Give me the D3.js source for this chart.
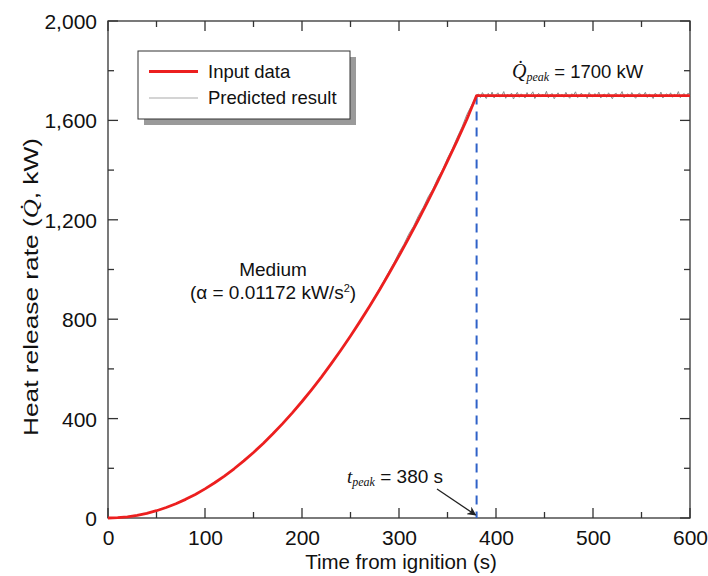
<!DOCTYPE html>
<html>
<head>
<meta charset="utf-8">
<script src="https://cdn.jsdelivr.net/npm/d3@7"></script>
<style>
  body { margin: 0; background: #fff; }
  svg text { font-family: "Liberation Sans", Arial, sans-serif; fill: #111; }
</style>
</head>
<body>
<svg id="chart" width="708" height="576"></svg>
<script>
// Input design fire curve (t-squared growth, then steady at peak)
const inputTime = [0,10,20,30,40,50,60,70,80,90,100,110,120,130,140,150,160,170,180,190,200,
  210,220,230,240,250,260,270,280,290,300,310,320,330,340,350,360,370,380,600];
const inputHrr = [0,1.2,4.7,10.5,18.8,29.3,42.2,57.4,75.0,94.9,117.2,141.8,168.8,198.1,229.7,263.7,
  300.0,338.7,379.7,423.1,468.8,516.9,567.2,620.0,675.1,732.5,792.3,854.4,918.8,985.7,1054.8,
  1126.3,1200.1,1276.3,1354.8,1435.7,1518.9,1604.5,1700,1700];

// Predicted heat release rate, growth phase
const predGrowthTime = [0,10,20,30,40,50,60,70,80,90,100,110,120,130,140,150,160,170,180,190,200,
  210,220,230,240,250,260,270,280,285,290,295,300,305,310,315,320,325,330,335,340,345,350,355,
  360,365,370,375,380];
const predGrowthHrr = [0,1,5,10,19,29,42,57,75,95,117,142,169,198,230,264,300,339,380,423,469,
  517,567,620,675,733,793,857,924,958,994,1029,1068,1101,1142,1174,1216,1250,1292,1324,1368,
  1402,1448,1486,1532,1574,1624,1662,1702];

// Predicted heat release rate, steady phase (sampled every 2 s from 382 s)
const predSteadyHrr = [1706,1692,1712,1698,1688,1709,1695,1714,1690,1703,1711,1694,1700,1716,1689,
  1705,1697,1710,1686,1702,1713,1693,1707,1699,1690,1712,1696,1704,1715,1688,1701,1709,1694,1706,
  1698,1717,1691,1703,1708,1687,1700,1711,1695,1705,1693,1713,1699,1689,1707,1702,1715,1692,1698,
  1710,1696,1704,1688,1712,1700,1694,1708,1697,1714,1690,1703,1706,1693,1711,1699,1687,1705,1709,
  1695,1702,1716,1691,1700,1707,1694,1712,1698,1689,1704,1710,1696,1701,1713,1692,1706,1699,1688,
  1709,1703,1695,1714,1690,1700,1707,1697,1711,1693,1705,1698,1716,1691,1702,1708,1694,1710,1700];
const predSteadyStart = 382, predSteadyStep = 2;

const peakTime = 380, peakHrr = 1700;
const xTicks = [0,100,200,300,400,500,600];
const yTicks = [0,400,800,1200,1600,2000];

const svg = d3.select("#chart");
const plotL = 108, plotR = 690, plotT = 21, plotB = 518;
const x = d3.scaleLinear().domain([0, 600]).range([plotL, plotR]);
const y = d3.scaleLinear().domain([0, 2000]).range([plotB, plotT]);

// Frame
svg.append("rect").attr("x", plotL).attr("y", plotT).attr("width", plotR - plotL).attr("height", plotB - plotT)
  .attr("fill", "none").attr("stroke", "#333").attr("stroke-width", 1.3);

// Inward ticks on all four sides (major + minor)
const tickG = svg.append("g").attr("stroke", "#333").attr("stroke-width", 1.3);
d3.range(0, 601, 50).forEach(v => {
  const len = v % 100 === 0 ? 10 : 6;
  tickG.append("line").attr("x1", x(v)).attr("x2", x(v)).attr("y1", plotB).attr("y2", plotB - len);
  tickG.append("line").attr("x1", x(v)).attr("x2", x(v)).attr("y1", plotT).attr("y2", plotT + len);
});
d3.range(0, 2001, 200).forEach(v => {
  const len = v % 400 === 0 ? 10 : 6;
  tickG.append("line").attr("y1", y(v)).attr("y2", y(v)).attr("x1", plotL).attr("x2", plotL + len);
  tickG.append("line").attr("y1", y(v)).attr("y2", y(v)).attr("x1", plotR).attr("x2", plotR - len);
});

// Tick labels via d3 axes (tick lines hidden, labels only)
const xAxis = svg.append("g").attr("transform", `translate(0,${plotB})`)
  .call(d3.axisBottom(x).tickValues(xTicks).tickSize(0).tickPadding(12).tickFormat(d3.format("d")));
const yAxis = svg.append("g").attr("transform", `translate(${plotL},0)`)
  .call(d3.axisLeft(y).tickValues(yTicks).tickSize(0).tickPadding(11).tickFormat(d3.format(",")));
[xAxis, yAxis].forEach(g => {
  g.select(".domain").remove();
  g.selectAll("text").style("font-size", "21px").style("font-family", "Liberation Sans, Arial, sans-serif").attr("fill", "#111");
});
xAxis.selectAll("text").attr("dy", "0.71em");
yAxis.selectAll("text").attr("dy", "0.36em");

// Axis titles
svg.append("text").attr("x", 401).attr("y", 569).attr("text-anchor", "middle")
  .style("font-size", "20.5px").text("Time from ignition (s)");
const yTitle = svg.append("text").attr("transform", `translate(38,287) rotate(-90)`)
  .attr("text-anchor", "middle").style("font-size", "21px")
  .attr("textLength", 298).attr("lengthAdjust", "spacingAndGlyphs");
yTitle.append("tspan").text("Heat release rate (");
yTitle.append("tspan").style("font-style", "italic").style("font-family", "Liberation Serif, serif").text("Q\u0307");
yTitle.append("tspan").text(", kW)");

// Lines
const line = d3.line().x(d => x(d[0])).y(d => y(d[1]));
const predPts = predGrowthTime.map((t, i) => [t, predGrowthHrr[i]])
  .concat(predSteadyHrr.map((v, i) => [predSteadyStart + i * predSteadyStep, v]));
const inputPts = inputTime.map((t, i) => [t, inputHrr[i]]);

svg.append("path").datum(predPts).attr("d", line).attr("fill", "none")
  .attr("stroke", "#8c8c8c").attr("stroke-width", 1);

// Peak time marker
svg.append("line").attr("x1", x(peakTime)).attr("x2", x(peakTime)).attr("y1", y(peakHrr)).attr("y2", y(0))
  .attr("stroke", "#2f62c8").attr("stroke-width", 2).attr("stroke-dasharray", "9,7");

svg.append("path").datum(inputPts).attr("d", line).attr("fill", "none")
  .attr("stroke", "#ec1f1f").attr("stroke-width", 2.8).attr("stroke-linejoin", "round");

// Legend
const lg = svg.append("g");
lg.append("rect").attr("x", 144).attr("y", 57).attr("width", 212).attr("height", 68).attr("fill", "#9a9a9a");
lg.append("rect").attr("x", 138).attr("y", 51).attr("width", 212).attr("height", 68)
  .attr("fill", "#fff").attr("stroke", "#333").attr("stroke-width", 1);
lg.append("line").attr("x1", 149).attr("x2", 198).attr("y1", 71.5).attr("y2", 71.5)
  .attr("stroke", "#ec1f1f").attr("stroke-width", 2.8);
lg.append("line").attr("x1", 149).attr("x2", 198).attr("y1", 98).attr("y2", 98)
  .attr("stroke", "#aaa").attr("stroke-width", 1.2);
lg.append("text").attr("x", 208).attr("y", 78).style("font-size", "18.5px").text("Input data");
lg.append("text").attr("x", 208).attr("y", 104).style("font-size", "18.5px").text("Predicted result");

// Peak HRR annotation
const qt = svg.append("text").attr("x", 512).attr("y", 78).style("font-size", "18.5px");
qt.append("tspan").style("font-style", "italic").style("font-family", "Liberation Serif, serif")
  .style("font-size", "20px").text("Q\u0307");
qt.append("tspan").style("font-style", "italic").style("font-family", "Liberation Serif, serif")
  .style("font-size", "12px").attr("dy", 3).text("peak");
qt.append("tspan").attr("dy", -3).text(" = 1700 kW");

// Growth class annotation
svg.append("text").attr("x", 273).attr("y", 276).attr("text-anchor", "middle").style("font-size", "19px").text("Medium");
const at = svg.append("text").attr("x", 273).attr("y", 299).attr("text-anchor", "middle").style("font-size", "19px");
at.append("tspan").text("(\u03b1 = 0.01172 kW/s");
at.append("tspan").style("font-size", "11px").attr("dy", -7).text("2");
at.append("tspan").attr("dy", 7).text(")");

// Peak time annotation with arrow
const tt = svg.append("text").attr("x", 347).attr("y", 483).style("font-size", "19px");
tt.append("tspan").style("font-style", "italic").style("font-family", "Liberation Serif, serif")
  .style("font-size", "19px").text("t");
tt.append("tspan").style("font-style", "italic").style("font-family", "Liberation Serif, serif")
  .style("font-size", "12px").attr("dy", 3).text("peak");
tt.append("tspan").attr("dy", -3).text(" = 380 s");

svg.append("defs").append("marker").attr("id", "arrow").attr("viewBox", "0 0 10 10")
  .attr("refX", 9).attr("refY", 5).attr("markerWidth", 7).attr("markerHeight", 7)
  .attr("orient", "auto").append("path").attr("d", "M0,0 L10,5 L0,10 L3,5 Z").attr("fill", "#222");
svg.append("line").attr("x1", 437).attr("y1", 489).attr("x2", x(peakTime) - 1).attr("y2", 515)
  .attr("stroke", "#222").attr("stroke-width", 1.3).attr("marker-end", "url(#arrow)");
</script>
</body>
</html>
